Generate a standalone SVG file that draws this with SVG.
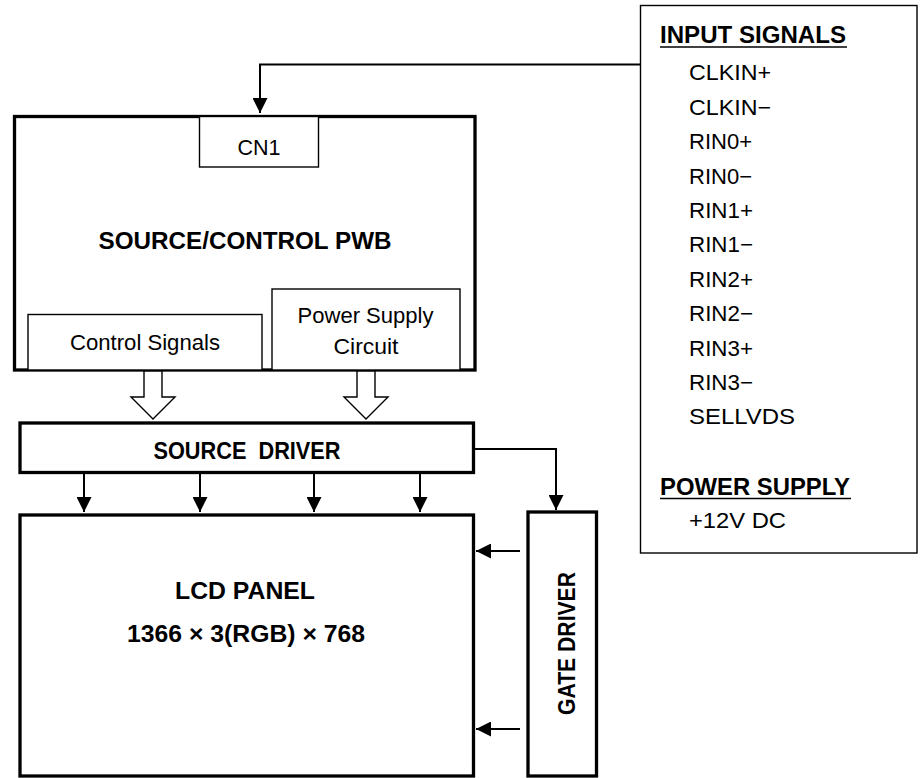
<svg xmlns="http://www.w3.org/2000/svg" width="923" height="778" viewBox="0 0 923 778">
<style>
  .box { fill: #fff; stroke: #000; }
  .thick { stroke-width: 3.3; }
  .thin { stroke-width: 1.4; }
  .conn { fill: none; stroke: #000; stroke-width: 2; }
  .hollow { fill: #fff; stroke: #000; stroke-width: 1.4; stroke-linejoin: miter; }
  text { font-family: "Liberation Sans", Arial, sans-serif; fill: #000; }
  .t { font-size: 21.5px; }
  .b { font-size: 23px; font-weight: bold; }
  .c { text-anchor: middle; }
  .ul { stroke: #000; stroke-width: 1.6; }
</style>
<defs>
  <marker id="ah" markerUnits="userSpaceOnUse" markerWidth="15" markerHeight="15" refX="15" refY="7.5" orient="auto">
    <path d="M0,0 L15,7.5 L0,15 Z" fill="#000"/>
  </marker>
</defs>
<rect width="923" height="778" fill="#fff"/>

<g id="pwb">
  <rect class="box thick" x="14.5" y="116.5" width="460.5" height="253.5"/>
  <text class="b c" x="245" y="248.5" textLength="293" lengthAdjust="spacingAndGlyphs">SOURCE/CONTROL PWB</text>
</g>
<g id="cn1">
  <rect class="box thin" x="199.5" y="116.5" width="119" height="50.5"/>
  <text class="t c" x="259" y="155" textLength="43" lengthAdjust="spacingAndGlyphs">CN1</text>
</g>
<g id="control-signals">
  <rect class="box thin" x="28" y="314.5" width="234" height="55.5"/>
  <text class="t c" x="145" y="350" textLength="150" lengthAdjust="spacingAndGlyphs">Control Signals</text>
</g>
<g id="power-supply-circuit">
  <rect class="box thin" x="272" y="289" width="188" height="81"/>
  <text class="t c" x="365.5" y="323" textLength="136" lengthAdjust="spacingAndGlyphs">Power Supply</text>
  <text class="t c" x="366" y="354" textLength="65" lengthAdjust="spacingAndGlyphs">Circuit</text>
</g>
<g id="source-driver">
  <rect class="box thick" x="20" y="423" width="453.5" height="49.5"/>
  <text class="b c" x="247" y="458.5" textLength="187" lengthAdjust="spacingAndGlyphs" xml:space="preserve">SOURCE  DRIVER</text>
</g>
<g id="lcd-panel">
  <rect class="box thick" x="20" y="515" width="453.5" height="261"/>
  <text class="b c" x="245" y="598.5" textLength="140" lengthAdjust="spacingAndGlyphs">LCD PANEL</text>
  <text class="b c" x="246" y="642" textLength="238" lengthAdjust="spacingAndGlyphs">1366 × 3(RGB) × 768</text>
</g>
<g id="gate-driver">
  <rect class="box thick" x="528" y="512" width="68.5" height="264"/>
  <text class="b c" transform="translate(574.5,643.5) rotate(-90)" x="0" y="0" style="font-size:24px" textLength="143" lengthAdjust="spacingAndGlyphs">GATE DRIVER</text>
</g>
<g id="input-signals">
  <rect class="box thin" x="640.5" y="5.5" width="276.5" height="547.5"/>
  <text class="b" x="660" y="43" textLength="186" lengthAdjust="spacingAndGlyphs">INPUT SIGNALS</text>
  <line class="ul" x1="660" y1="47" x2="847" y2="47"/>
  <text class="t" x="689" y="80" textLength="82" lengthAdjust="spacingAndGlyphs">CLKIN+</text>
  <text class="t" x="689" y="114.5" textLength="82" lengthAdjust="spacingAndGlyphs">CLKIN−</text>
  <text class="t" x="689" y="149" textLength="63" lengthAdjust="spacingAndGlyphs">RIN0+</text>
  <text class="t" x="689" y="183.5" textLength="63" lengthAdjust="spacingAndGlyphs">RIN0−</text>
  <text class="t" x="689" y="217.5" textLength="64" lengthAdjust="spacingAndGlyphs">RIN1+</text>
  <text class="t" x="689" y="252" textLength="64" lengthAdjust="spacingAndGlyphs">RIN1−</text>
  <text class="t" x="689" y="286.5" textLength="64" lengthAdjust="spacingAndGlyphs">RIN2+</text>
  <text class="t" x="689" y="321" textLength="64" lengthAdjust="spacingAndGlyphs">RIN2−</text>
  <text class="t" x="689" y="355.5" textLength="64" lengthAdjust="spacingAndGlyphs">RIN3+</text>
  <text class="t" x="689" y="389.5" textLength="64" lengthAdjust="spacingAndGlyphs">RIN3−</text>
  <text class="t" x="689" y="424" textLength="106" lengthAdjust="spacingAndGlyphs">SELLVDS</text>
  <text class="b" x="660" y="494.5" textLength="190" lengthAdjust="spacingAndGlyphs">POWER SUPPLY</text>
  <line class="ul" x1="660" y1="498.5" x2="851" y2="498.5"/>
  <text class="t" x="689" y="528" textLength="97" lengthAdjust="spacingAndGlyphs">+12V DC</text>
</g>

<g id="connectors">
  <path class="conn" d="M640.5,64.5 H260 V113" marker-end="url(#ah)"/>
  <polygon class="hollow" points="144,371 162,371 162,397 175,397 153,419 131,397 144,397"/>
  <polygon class="hollow" points="357,371 375,371 375,397 388,397 366,419 344,397 357,397"/>
  <path class="conn" d="M84,472.5 V512" marker-end="url(#ah)"/>
  <path class="conn" d="M200,472.5 V512" marker-end="url(#ah)"/>
  <path class="conn" d="M314,472.5 V512" marker-end="url(#ah)"/>
  <path class="conn" d="M420,472.5 V512" marker-end="url(#ah)"/>
  <path class="conn" d="M475,449 H556 V510" marker-end="url(#ah)"/>
  <path class="conn" d="M520,551 H476" marker-end="url(#ah)"/>
  <path class="conn" d="M520,729 H476" marker-end="url(#ah)"/>
</g>
</svg>
